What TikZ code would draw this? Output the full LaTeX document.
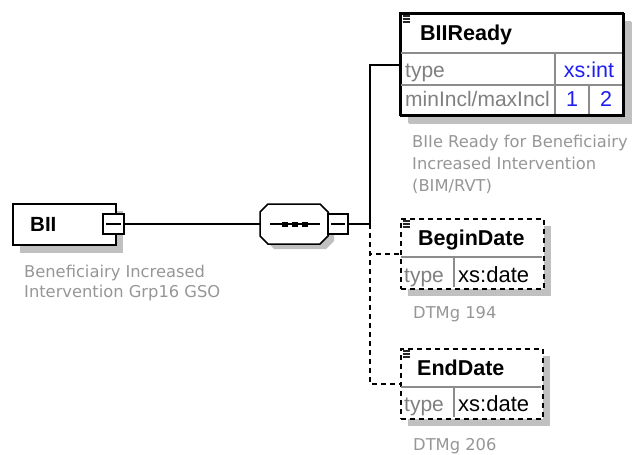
\documentclass[tikz,border=0pt]{standalone}
\usepackage{fontspec}
\setmainfont{Liberation Sans}
\newfontfamily\annfont{DejaVu Sans}
\usetikzlibrary{shadows}
\definecolor{shadowgray}{RGB}{192,192,192}
\definecolor{lblgray}{RGB}{128,128,128}
\definecolor{anngray}{RGB}{150,150,150}
\definecolor{valblue}{RGB}{30,30,240}
\definecolor{gridgray}{RGB}{140,140,140}
\begin{document}
\begin{tikzpicture}[x=1pt,y=-1pt,
  elbox/.style={draw=black, line width=1.5pt, fill=white, rectangle, inner sep=0pt, anchor=north west,
    drop shadow={shadow xshift=7pt, shadow yshift=-7pt, fill=shadowgray, opacity=1}},
  optbox/.style={elbox, dash pattern=on 5pt off 4pt},
  minusbox/.style={draw=black, line width=1.5pt, fill=white, rectangle, inner sep=0pt, minimum width=20pt, minimum height=20pt},
  conn/.style={line width=1.5pt},
  optconn/.style={line width=1.5pt, dash pattern=on 5pt off 4pt},
  grid/.style={line width=1.2pt, draw=gridgray},
  title/.style={font=\bfseries\fontsize{21.5}{24}\selectfont, anchor=base west, inner sep=0pt},
  lbl/.style={font=\fontsize{21}{24}\selectfont, text=lblgray, anchor=base west, inner sep=0pt},
  val/.style={font=\fontsize{21.5}{24}\selectfont, text=valblue, anchor=base, inner sep=0pt},
  dval/.style={font=\fontsize{22}{24}\selectfont, text=black, anchor=base west, inner sep=0pt},
  ann/.style={font=\annfont\fontsize{16.3}{22}\selectfont, text=anngray, anchor=base west, inner sep=0pt},
  icon/.style={line width=1.5pt, draw=black!85}
]
\useasboundingbox (0,0) rectangle (643,455);

% ---------- BII ----------
\node[elbox, minimum width=103pt, minimum height=41pt,
  drop shadow={shadow xshift=7pt, shadow yshift=-8pt, fill=shadowgray, opacity=1}] (bii) at (12,203) {};
\node[title, font=\bfseries\fontsize{20.5}{24}\selectfont] (biit) at (30,231) {BII};
\node[minusbox, minimum width=21pt] (biim) at (113.5,224) {};
\draw[line width=1.3pt] ([xshift=4pt]biim.west) -- ([xshift=-4pt]biim.east);
\node[ann] (bian1) at (24,277) {Beneficiairy Increased};
\node[ann] (bian2) at (24,297) {Intervention Grp16 GSO};

% ---------- sequence ----------
\node[inner sep=0pt, minimum width=68pt, minimum height=40pt] (seq) at (294,224) {};
\fill[shadowgray] (274,209) -- (326,209) -- (334,217) -- (334,241) -- (326,249) -- (274,249) -- (266,241) -- (266,217) -- cycle;
\draw[conn, fill=white] (268,204) -- (320,204) -- (328,212) -- (328,236) -- (320,244) -- (268,244) -- (260,236) -- (260,212) -- cycle;
\draw[line width=1.3pt] ([xshift=10pt]seq.west) -- ([xshift=-8pt]seq.east);
\foreach \sx in {285,295,305}
  \fill (\sx-3,221.5) rectangle (\sx+3,226.5);
\node[minusbox] (seqm) at (338,224) {};
\draw[line width=1.3pt] ([xshift=4pt]seqm.west) -- ([xshift=-4pt]seqm.east);
\draw[conn] (biim.east) -- (seq.west);

% ---------- BIIReady ----------
\node[elbox, minimum width=223pt, minimum height=102pt,
  drop shadow={shadow xshift=8pt, shadow yshift=-8pt, fill=shadowgray, opacity=1}] (rdy) at (400,13) {};
\draw[grid] (401,53) -- (622,53);
\draw[grid] (401,85) -- (622,85);
\draw[grid] (555,54) -- (555,114);
\draw[grid] (589,86) -- (589,114);
\draw[line width=1.5pt] (400,13) rectangle (623,115);
\foreach \iy in {16,19,22} \draw[icon] (402.5,\iy) -- (410,\iy);
\node[title] (rdyt) at (420,40) {BIIReady};
\node[lbl] (rdyl1) at (405,77) {type};
\node[val] (rdyv1) at (589,77) {xs:int};
\node[lbl] (rdyl2) at (405,106) {minIncl/maxIncl};
\node[val] (rdyv2) at (572,106) {1};
\node[val] (rdyv3) at (606,106) {2};
\node[ann] (rdya1) at (412,147) {BIIe Ready for Beneficiairy};
\node[ann] (rdya2) at (412,169) {Increased Intervention};
\node[ann] (rdya3) at (412,191) {(BIM/RVT)};

% ---------- BeginDate ----------
\node[optbox, minimum width=143pt, minimum height=70pt] (bd) at (400,218) {};
\draw[grid] (401,257) -- (542,257);
\draw[grid] (454,258) -- (454,287);
\foreach \iy in {221,224,227} \draw[icon] (402.5,\iy) -- (410,\iy);
\node[title] (bdt) at (418,245) {BeginDate};
\node[lbl] (bdl) at (404,282) {type};
\node[dval] (bdv) at (458,282) {xs:date};
\node[ann] (bda) at (413,318) {DTMg 194};

% ---------- EndDate ----------
\node[optbox, minimum width=142pt, minimum height=70pt] (ed) at (400,348) {};
\draw[grid] (401,387) -- (541,387);
\draw[grid] (454,388) -- (454,417);
\foreach \iy in {351,354,357} \draw[icon] (402.5,\iy) -- (410,\iy);
\node[title] (edt) at (417,375) {EndDate};
\node[lbl] (edl) at (404,411) {type};
\node[dval] (edv) at (458,411) {xs:date};
\node[ann] (eda) at (413,450) {DTMg 206};

% ---------- connectors ----------
\coordinate (j) at (370,224);
\draw[conn] (seqm.east) -- (j) |- (rdy.west);
\draw[optconn] (j) |- (bd.west);
\draw[optconn] (j) |- (ed.west);
\end{tikzpicture}
\end{document}
